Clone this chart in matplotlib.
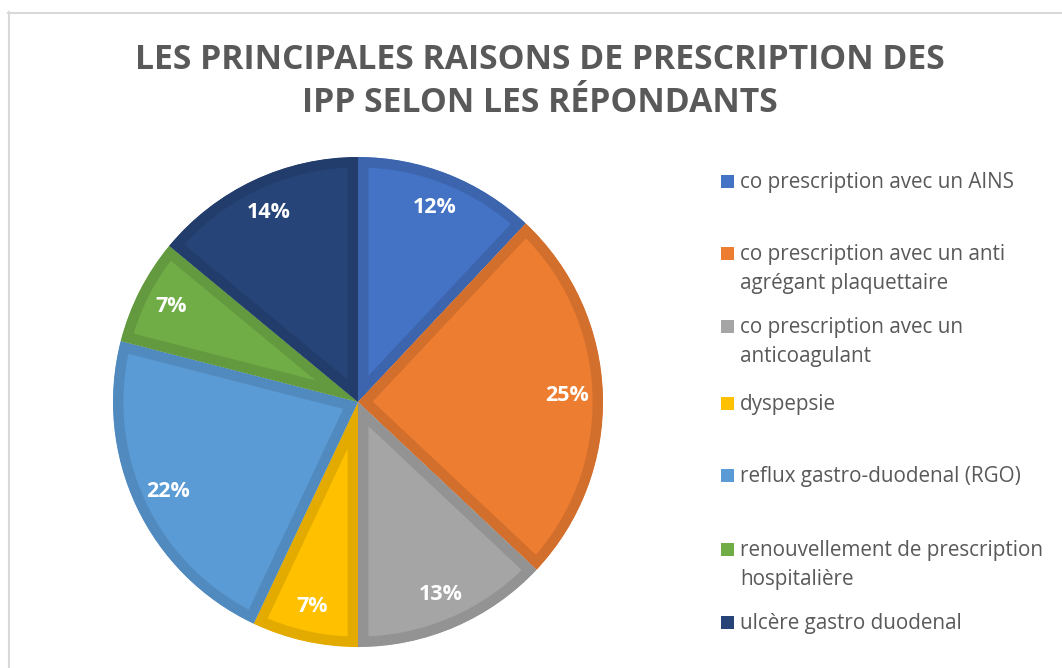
import matplotlib
matplotlib.use("Agg")
import matplotlib.pyplot as plt
from matplotlib.lines import Line2D
from matplotlib.patches import Rectangle
from matplotlib.colors import to_rgb

# Data
labels = [
    "co prescription avec un AINS",
    "co prescription avec un anti\nagrégant plaquettaire",
    "co prescription avec un\nanticoagulant",
    "dyspepsie",
    "reflux gastro-duodenal (RGO)",
    "renouvellement de prescription\nhospitalière",
    "ulcère gastro duodenal",
]
values = [12, 25, 13, 7, 22, 7, 14]
colors = ["#4472C4", "#ED7D31", "#A5A5A5", "#FFC000", "#5B9BD5", "#70AD47", "#264478"]
title = "LES PRINCIPALES RAISONS DE PRESCRIPTION DES\nIPP SELON LES RÉPONDANTS"

W, H = 1062, 668
FONT = ["Open Sans", "DejaVu Sans"]
TEXT_GRAY = "#595959"


def darker(c, f=0.9):
    r, g, b = to_rgb(c)
    return (r * f, g * f, b * f)


fig = plt.figure(figsize=(W / 100, H / 100), dpi=100)
fig.patch.set_facecolor("white")

# chart frame (only left/top edges visible)
fig.add_artist(Line2D([8.5 / W, 8.5 / W], [0, 1 - 12 / H], transform=fig.transFigure,
                      color="#D9D9D9", lw=1.5))
fig.add_artist(Line2D([8 / W, 1], [1 - 12.5 / H, 1 - 12.5 / H], transform=fig.transFigure,
                      color="#D9D9D9", lw=1.5))

# title
fig.text(540 / W, 1 - 81.5 / H, title, ha="center", va="center", fontsize=24.3,
         fontweight="bold", color=TEXT_GRAY, family=FONT, linespacing=1.38)

# pie
cx, cy, r = 358, H - 402, 245
ax = fig.add_axes([(cx - r) / W, (cy - r) / H, 2 * r / W, 2 * r / H])
wedges, _, autotexts = ax.pie(values, colors=colors, startangle=90, counterclock=False,
                              autopct="%1.0f%%", pctdistance=0.855, radius=1.0)
ax.set_xlim(-1, 1)
ax.set_ylim(-1, 1)
ax.axis("off")
# darker inner border on each slice (stroke clipped to the slice itself)
for w, c in zip(wedges, colors):
    w.set_edgecolor(darker(c, 0.89))
    w.set_linewidth(15)
    w.set_clip_on(True)
    w.set_clip_path(w)
for t in autotexts:
    t.set_color("white")
    t.set_fontsize(15.5)
    t.set_fontweight("bold")
    t.set_family(FONT)

# legend
legend_y = [181, 253, 326, 403, 475, 549, 622]
for lab, c, y in zip(labels, colors, legend_y):
    fig.add_artist(Rectangle((721 / W, 1 - (y + 6.5) / H), 13 / W, 13 / H,
                             transform=fig.transFigure, facecolor=c, edgecolor="none"))
    fig.text(740 / W, 1 - (y - 9) / H, lab, ha="left", va="top", fontsize=14.9,
             color=TEXT_GRAY, family=FONT, linespacing=1.49)

fig.savefig("out.png", dpi=100)
